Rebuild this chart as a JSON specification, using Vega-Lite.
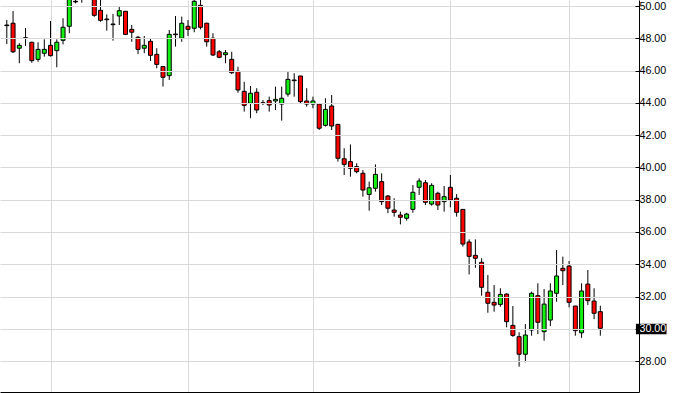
{
  "$schema": "https://vega.github.io/schema/vega-lite/v6.json",
  "width": 639,
  "height": 392,
  "autosize": {"type": "none"},
  "padding": {"left": 0, "top": 0, "right": 47, "bottom": 1},
  "background": "white",
  "config": {"view": {"stroke": null}},
  "data": {"values": [
    {"i":0,"open":48.83,"high":49.14,"low":47.65,"close":48.79},
    {"i":1,"open":48.94,"high":49.70,"low":47.09,"close":47.17},
    {"i":2,"open":47.39,"high":47.70,"low":46.46,"close":47.57},
    {"i":3,"open":48.04,"high":48.64,"low":47.53,"close":48.00},
    {"i":4,"open":47.76,"high":47.79,"low":46.49,"close":46.62},
    {"i":5,"open":46.70,"high":47.76,"low":46.55,"close":47.32},
    {"i":6,"open":47.08,"high":47.94,"low":46.87,"close":47.32},
    {"i":7,"open":47.57,"high":49.08,"low":46.87,"close":46.93},
    {"i":8,"open":47.24,"high":47.94,"low":46.21,"close":47.76},
    {"i":9,"open":47.88,"high":49.25,"low":47.63,"close":48.69},
    {"i":10,"open":48.75,"high":50.75,"low":48.32,"close":50.55},
    {"i":11,"open":50.30,"high":50.70,"low":50.17,"close":50.26},
    {"i":12,"open":50.60,"high":51.00,"low":50.21,"close":50.80},
    {"i":13,"open":51.00,"high":51.40,"low":50.55,"close":50.80},
    {"i":14,"open":50.70,"high":51.00,"low":49.34,"close":49.43},
    {"i":15,"open":49.74,"high":50.50,"low":49.03,"close":49.12},
    {"i":16,"open":49.20,"high":49.49,"low":48.48,"close":49.16},
    {"i":17,"open":48.89,"high":49.51,"low":47.86,"close":48.85},
    {"i":18,"open":49.39,"high":49.96,"low":48.83,"close":49.72},
    {"i":19,"open":49.68,"high":49.70,"low":48.20,"close":48.25},
    {"i":20,"open":48.56,"high":48.83,"low":47.79,"close":48.38},
    {"i":21,"open":48.07,"high":48.15,"low":47.03,"close":47.32},
    {"i":22,"open":47.39,"high":48.15,"low":47.08,"close":47.57},
    {"i":23,"open":47.82,"high":48.01,"low":46.60,"close":46.95},
    {"i":24,"open":47.01,"high":47.39,"low":46.15,"close":46.39},
    {"i":25,"open":46.25,"high":46.25,"low":45.01,"close":45.59},
    {"i":26,"open":45.69,"high":48.52,"low":45.42,"close":48.25},
    {"i":27,"open":48.27,"high":49.39,"low":47.49,"close":48.23},
    {"i":28,"open":48.01,"high":49.35,"low":47.79,"close":48.94},
    {"i":29,"open":48.75,"high":49.14,"low":48.15,"close":48.56},
    {"i":30,"open":48.63,"high":50.50,"low":48.38,"close":50.30},
    {"i":31,"open":50.05,"high":50.50,"low":48.56,"close":48.69},
    {"i":32,"open":48.94,"high":48.97,"low":47.49,"close":47.79},
    {"i":33,"open":48.01,"high":48.32,"low":46.91,"close":46.97},
    {"i":34,"open":47.17,"high":47.28,"low":46.77,"close":46.83},
    {"i":35,"open":46.99,"high":47.28,"low":46.46,"close":47.11},
    {"i":36,"open":46.70,"high":47.17,"low":45.79,"close":45.87},
    {"i":37,"open":45.96,"high":46.25,"low":44.63,"close":44.80},
    {"i":38,"open":44.72,"high":45.31,"low":43.46,"close":43.85},
    {"i":39,"open":43.98,"high":45.05,"low":43.05,"close":44.60},
    {"i":40,"open":44.66,"high":44.91,"low":43.36,"close":43.56},
    {"i":41,"open":44.01,"high":44.18,"low":43.87,"close":43.97},
    {"i":42,"open":44.14,"high":44.39,"low":43.46,"close":43.87},
    {"i":43,"open":44.12,"high":45.01,"low":43.56,"close":44.22},
    {"i":44,"open":43.93,"high":45.01,"low":42.90,"close":44.29},
    {"i":45,"open":44.55,"high":45.94,"low":44.39,"close":45.46},
    {"i":46,"open":45.42,"high":45.84,"low":44.39,"close":45.38},
    {"i":47,"open":45.67,"high":45.67,"low":43.98,"close":44.08},
    {"i":48,"open":44.12,"high":44.91,"low":43.77,"close":43.93},
    {"i":49,"open":43.93,"high":44.39,"low":43.67,"close":44.12},
    {"i":50,"open":43.93,"high":43.98,"low":42.32,"close":42.43},
    {"i":51,"open":42.61,"high":44.29,"low":42.53,"close":43.60},
    {"i":52,"open":43.81,"high":44.49,"low":42.32,"close":42.57},
    {"i":53,"open":42.67,"high":42.70,"low":40.36,"close":40.57},
    {"i":54,"open":40.54,"high":41.19,"low":39.53,"close":40.19},
    {"i":55,"open":40.36,"high":41.43,"low":39.43,"close":39.95},
    {"i":56,"open":40.05,"high":40.26,"low":39.64,"close":39.74},
    {"i":57,"open":39.64,"high":39.84,"low":38.19,"close":38.60},
    {"i":58,"open":38.33,"high":39.12,"low":37.32,"close":38.74},
    {"i":59,"open":38.71,"high":40.19,"low":38.50,"close":39.57},
    {"i":60,"open":39.12,"high":39.64,"low":37.67,"close":37.88},
    {"i":61,"open":38.23,"high":38.29,"low":37.16,"close":37.47},
    {"i":62,"open":37.36,"high":38.09,"low":36.95,"close":37.22},
    {"i":63,"open":37.05,"high":37.26,"low":36.47,"close":36.91},
    {"i":64,"open":36.85,"high":37.19,"low":36.70,"close":37.11},
    {"i":65,"open":37.40,"high":38.91,"low":37.19,"close":38.46},
    {"i":66,"open":38.77,"high":39.33,"low":38.29,"close":39.16},
    {"i":67,"open":39.05,"high":39.22,"low":37.67,"close":37.84},
    {"i":68,"open":37.73,"high":39.02,"low":37.63,"close":38.89},
    {"i":69,"open":38.40,"high":38.50,"low":37.36,"close":37.67},
    {"i":70,"open":37.88,"high":38.85,"low":37.26,"close":38.19},
    {"i":71,"open":38.77,"high":39.53,"low":37.53,"close":37.98},
    {"i":72,"open":38.09,"high":38.35,"low":36.95,"close":37.22},
    {"i":73,"open":37.40,"high":37.40,"low":35.09,"close":35.25},
    {"i":74,"open":35.38,"high":35.54,"low":33.37,"close":34.49},
    {"i":75,"open":34.55,"high":35.54,"low":33.78,"close":34.37},
    {"i":76,"open":34.12,"high":34.37,"low":32.05,"close":32.57},
    {"i":77,"open":32.26,"high":33.33,"low":30.99,"close":31.58},
    {"i":78,"open":31.64,"high":32.71,"low":31.06,"close":31.47},
    {"i":79,"open":31.51,"high":32.51,"low":31.37,"close":32.13},
    {"i":80,"open":32.15,"high":32.20,"low":30.09,"close":30.44},
    {"i":81,"open":30.21,"high":31.41,"low":29.50,"close":29.59},
    {"i":82,"open":29.51,"high":29.78,"low":27.65,"close":28.42},
    {"i":83,"open":28.42,"high":30.29,"low":27.92,"close":29.61},
    {"i":84,"open":29.92,"high":32.30,"low":29.57,"close":32.20},
    {"i":85,"open":32.05,"high":32.82,"low":29.67,"close":30.40},
    {"i":86,"open":29.82,"high":32.46,"low":29.26,"close":31.53},
    {"i":87,"open":30.54,"high":32.82,"low":30.17,"close":32.34},
    {"i":88,"open":32.20,"high":34.88,"low":31.68,"close":33.27},
    {"i":89,"open":33.75,"high":34.47,"low":32.71,"close":33.60},
    {"i":90,"open":33.89,"high":34.20,"low":31.33,"close":31.64},
    {"i":91,"open":31.41,"high":31.41,"low":29.57,"close":29.88},
    {"i":92,"open":29.75,"high":32.82,"low":29.44,"close":32.34},
    {"i":93,"open":32.77,"high":33.64,"low":31.47,"close":31.74},
    {"i":94,"open":31.72,"high":32.51,"low":30.60,"close":30.96},
    {"i":95,"open":31.06,"high":31.43,"low":29.57,"close":30.03}
  ]},
  "layer": [
    {
      "mark": {"type": "rule", "color": "black", "strokeWidth": 1, "clip": true},
      "encoding": {
        "x": {"field": "i", "type": "quantitative",
          "scale": {"domain": [-0.29, 100.39], "nice": false, "zero": false},
          "axis": {"orient": "bottom", "values": [7, 29, 49, 71, 90], "grid": true, "gridColor": "#d9d9d9", "gridWidth": 1,
            "labels": false, "ticks": false, "domain": true, "domainColor": "black", "domainWidth": 1, "title": null}},
        "y": {"field": "low", "type": "quantitative",
          "scale": {"domain": [26.08, 50.38], "nice": false, "zero": false},
          "axis": {"orient": "right", "values": [26, 28, 30, 32, 34, 36, 38, 40, 42, 44, 46, 48, 50], "format": ".2f",
            "grid": true, "gridColor": "#d9d9d9", "gridWidth": 1,
            "domain": true, "domainColor": "black", "domainWidth": 1,
            "ticks": true, "tickSize": -4, "tickColor": "black", "labelPadding": 4,
            "labelOverlap": false, "labelFlush": false, "labelBound": false,
            "labelFont": "Liberation Sans", "labelFontSize": 10.7,
            "labelColor": {"condition": {"test": "datum.value == 30", "value": "white"}, "value": "black"},
            "title": null, "zindex": 1}},
        "y2": {"field": "high"}
      }
    },
    {
      "mark": {"type": "bar", "width": 4, "stroke": "black", "strokeWidth": 1, "clip": true},
      "encoding": {
        "x": {"field": "i", "type": "quantitative",
          "axis": {"orient": "bottom", "values": [7, 29, 49, 71, 90], "grid": true, "gridColor": "#d9d9d9", "gridWidth": 1,
            "labels": false, "ticks": false, "domain": true, "domainColor": "black", "domainWidth": 1, "title": null}},
        "y": {"field": "open", "type": "quantitative",
          "axis": {"orient": "right", "values": [26, 28, 30, 32, 34, 36, 38, 40, 42, 44, 46, 48, 50], "format": ".2f",
            "grid": true, "gridColor": "#d9d9d9", "gridWidth": 1,
            "domain": true, "domainColor": "black", "domainWidth": 1,
            "ticks": true, "tickSize": -4, "tickColor": "black", "labelPadding": 4,
            "labelOverlap": false, "labelFlush": false, "labelBound": false,
            "labelFont": "Liberation Sans", "labelFontSize": 10.7,
            "labelColor": {"condition": {"test": "datum.value == 30", "value": "white"}, "value": "black"},
            "title": null, "zindex": 1}},
        "y2": {"field": "close"},
        "color": {"condition": {"test": "datum.close > datum.open", "value": "#11f011"}, "value": "#ff0000"}
      }
    },
    {
      "data": {"values": [{"last": 30.03}]},
      "mark": {"type": "rect", "color": "black", "clip": false},
      "encoding": {
        "x": {"datum": 100.7, "type": "quantitative",
          "axis": {"orient": "bottom", "values": [7, 29, 49, 71, 90], "grid": true, "gridColor": "#d9d9d9", "gridWidth": 1,
            "labels": false, "ticks": false, "domain": true, "domainColor": "black", "domainWidth": 1, "title": null}},
        "x2": {"datum": 105.6},
        "y": {"datum": 30.31, "type": "quantitative",
          "axis": {"orient": "right", "values": [26, 28, 30, 32, 34, 36, 38, 40, 42, 44, 46, 48, 50], "format": ".2f",
            "grid": true, "gridColor": "#d9d9d9", "gridWidth": 1,
            "domain": true, "domainColor": "black", "domainWidth": 1,
            "ticks": true, "tickSize": -4, "tickColor": "black", "labelPadding": 4,
            "labelOverlap": false, "labelFlush": false, "labelBound": false,
            "labelFont": "Liberation Sans", "labelFontSize": 10.7,
            "labelColor": {"condition": {"test": "datum.value == 30", "value": "white"}, "value": "black"},
            "title": null, "zindex": 1}},
        "y2": {"datum": 29.66}
      }
    }
  ]
}
